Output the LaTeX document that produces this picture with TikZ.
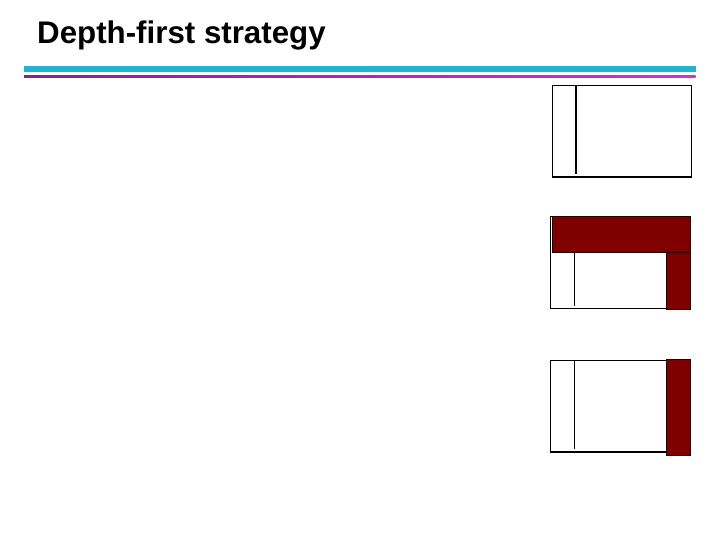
\documentclass[tikz,border=0pt]{standalone}
\usepackage{fontspec}
\setmainfont{Liberation Sans}
\definecolor{cyanline}{RGB}{30,180,210}
\definecolor{purpleL}{RGB}{140,30,150}
\definecolor{magentaR}{RGB}{210,50,210}
\definecolor{darkred}{RGB}{128,0,0}
\begin{document}
\begin{tikzpicture}[x=1bp,y=-1bp,
  frame/.style={draw=black,line width=1.2bp},
  redbar/.style={fill=darkred,draw=black!70!darkred,line width=0.8bp},
  divider/.style={draw=black,line width=1.2bp}]
\useasboundingbox (0,0) rectangle (720,540);
\node[anchor=base west,inner sep=0pt,font=\bfseries\fontsize{31.4}{36}\selectfont] (title) at (37,43.5) {Depth-first strategy};
\fill[cyanline] (24,66.3) rectangle (695.7,71.7);
\shade[left color=purpleL,right color=magentaR] (24,75.3) rectangle (695.7,77.7);
% box 1
\draw[frame] (552.3,85.3) rectangle (691.7,177);
\coordinate (d1t) at (576,85.3);
\coordinate (d1b) at (576,174.3);
\draw[divider] (d1t) -- (d1b);
% box 2
\draw[frame] (550.7,216.7) rectangle (666.3,308.3);
\draw[redbar] (552.3,216.7) rectangle (690.7,252.3);
\draw[redbar] (666.3,252.3) rectangle (690.7,309);
\coordinate (d2t) at (574.3,252.3);
\coordinate (d2b) at (574.3,305.7);
\draw[divider] (d2t) -- (d2b);
% box 3
\draw[frame] (550.7,360.3) rectangle (666.3,452);
\draw[redbar] (666.3,359.3) rectangle (690.7,455.3);
\coordinate (d3t) at (574.3,360.3);
\coordinate (d3b) at (574.3,449.3);
\draw[divider] (d3t) -- (d3b);
\end{tikzpicture}
\end{document}
